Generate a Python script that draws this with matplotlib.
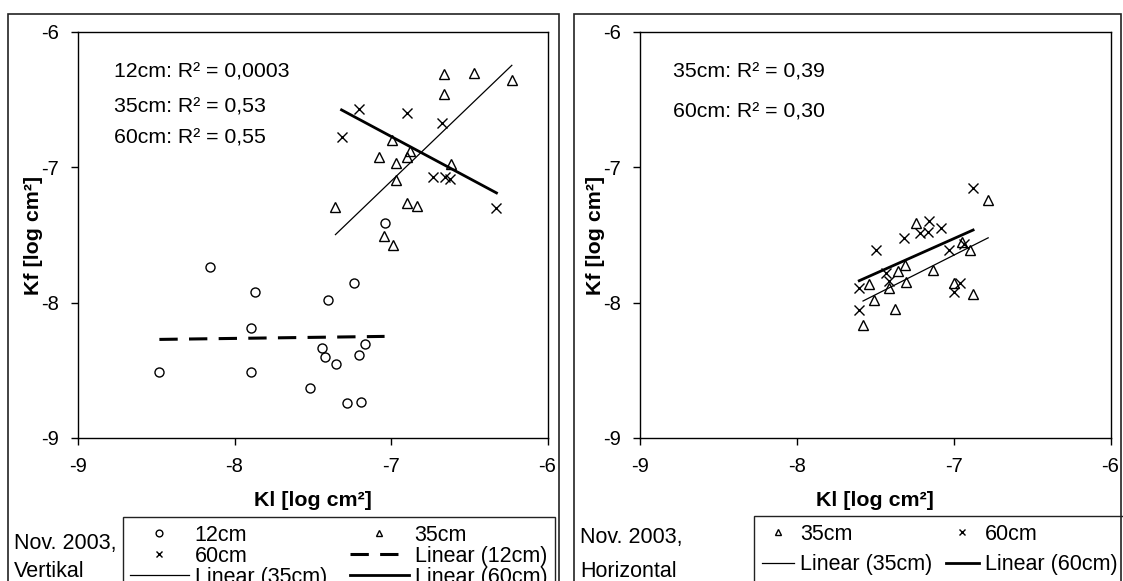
import matplotlib
matplotlib.use("Agg")
import matplotlib.pyplot as plt
from matplotlib.patches import Rectangle
import numpy as np

plt.rcParams['font.family'] = ['Liberation Sans', 'DejaVu Sans']

# Nov. 2003, vertical samples (Kl vs Kf, log cm^2)
kl12_v = [-8.158, -7.871, -7.405, -7.236, -7.893, -7.168, -7.439, -7.202,
          -7.423, -7.353, -8.480, -7.893, -7.517, -7.282, -7.193, -7.041]
kf12_v = [-7.739, -7.922, -7.983, -7.851, -8.185, -8.305, -8.332, -8.385,
          -8.402, -8.456, -8.515, -8.515, -8.634, -8.744, -8.734, -7.408]
kl35_v = [-6.659, -6.468, -6.228, -6.659, -6.992, -7.074, -6.967, -6.878,
          -6.896, -6.616, -6.967, -7.355, -6.896, -6.837, -7.045, -6.985]
kf35_v = [-6.312, -6.300, -6.351, -6.455, -6.799, -6.921, -6.971, -6.877,
          -6.926, -6.978, -7.093, -7.290, -7.260, -7.283, -7.511, -7.572]
kl60_v = [-7.202, -6.896, -7.316, -6.675, -6.730, -6.657, -6.623, -6.326]
kf60_v = [-6.572, -6.602, -6.774, -6.676, -7.069, -7.069, -7.088, -7.297]

# Nov. 2003, horizontal samples
kl35_h = [-6.780, -7.240, -6.946, -6.899, -7.312, -7.357, -7.131, -7.304,
          -7.542, -7.414, -6.995, -6.876, -7.506, -7.376, -7.578]
kf35_h = [-7.245, -7.415, -7.553, -7.608, -7.720, -7.765, -7.758, -7.845,
          -7.865, -7.890, -7.858, -7.933, -7.983, -8.045, -8.165]
kl60_h = [-6.876, -7.157, -7.216, -7.165, -7.078, -7.314, -7.497, -7.027,
          -6.936, -7.429, -7.414, -7.602, -7.602, -6.961, -6.995]
kf60_h = [-7.150, -7.395, -7.483, -7.475, -7.445, -7.520, -7.608, -7.608,
          -7.563, -7.783, -7.838, -7.895, -8.053, -7.858, -7.920]

r2_text_v = ['12cm: R² = 0,0003', '35cm: R² = 0,53', '60cm: R² = 0,55']
r2_text_h = ['35cm: R² = 0,39', '60cm: R² = 0,30']
ticks = [-9, -8, -7, -6]

W, H = 1123, 581
fig = plt.figure(figsize=(W / 100, H / 100), dpi=100)

# outer chart frames
fig.patches.append(Rectangle((8 / W, -0.1), 551 / W, 1.1 - 14 / H, transform=fig.transFigure,
                             fill=False, edgecolor='#222222', linewidth=1.2))
fig.patches.append(Rectangle((573.5 / W, -0.1), 547.5 / W, 1.1 - 14 / H, transform=fig.transFigure,
                             fill=False, edgecolor='#222222', linewidth=1.2))

axL = fig.add_axes([78 / W, 1 - 438 / H, 469.5 / W, 406 / H])
axR = fig.add_axes([640 / W, 1 - 438 / H, 470.5 / W, 406 / H])

ms = 6.5
mk = dict(linestyle='none', color='black', markersize=ms, markeredgewidth=1.0, clip_on=False)
fs_leg = 15.5


# linear trendline over the x range of the data
def trend(ax, x, y, **kw):
    x = np.array(x)
    a, b = np.polyfit(x, np.array(y), 1)
    xs = np.array([x.min(), x.max()])
    return ax.plot(xs, a * xs + b, color='black', **kw)[0]


def style(ax):
    ax.set_xlim(-9, -6)
    ax.set_ylim(-9, -6)
    ax.set_xticks(ticks)
    ax.set_yticks(ticks)
    ax.set_xticklabels([str(t) for t in ticks])
    ax.set_yticklabels([str(t) for t in ticks])
    ax.tick_params(direction='out', length=5, width=1, labelsize=14.5, pad=9)
    for s in ax.spines.values():
        s.set_linewidth(1.0)
    ax.set_xlabel('Kl [log cm²]', fontsize=15.4, fontweight='bold', va='center')
    ax.set_ylabel('Kf [log cm²]', fontsize=15.4, fontweight='bold', va='center')
    ax.xaxis.set_label_coords(0.5, -0.153)
    ax.yaxis.set_label_coords(-0.094, 0.5)


# left panel: vertical
h12 = axL.plot(kl12_v, kf12_v, marker='o', markerfacecolor='none', **mk)[0]
h35 = axL.plot(kl35_v, kf35_v, marker='^', markerfacecolor='none', **mk)[0]
h60 = axL.plot(kl60_v, kf60_v, marker='x', **mk)[0]
l12 = trend(axL, kl12_v, kf12_v, linewidth=2.2, dashes=(6, 3.7))
l35 = trend(axL, kl35_v, kf35_v, linewidth=0.9)
l60 = trend(axL, kl60_v, kf60_v, linewidth=2.0)
style(axL)
for txt, yy in zip(r2_text_v, [0.902, 0.816, 0.738]):
    axL.text(0.077, yy, txt, transform=axL.transAxes, fontsize=15.3, va='center', ha='left')

legL = axL.legend([h12, h60, l35, h35, l12, l60],
                  ['12cm', '60cm', 'Linear (35cm)', '35cm', 'Linear (12cm)', 'Linear (60cm)'],
                  ncol=2, loc='upper left', bbox_to_anchor=(122.5 / W, 1 - 517 / H),
                  bbox_transform=fig.transFigure, fontsize=fs_leg, fancybox=False,
                  edgecolor='#222222', handlelength=2.73, handletextpad=0.28, columnspacing=1.06,
                  labelspacing=0.0, borderpad=0.35, borderaxespad=0, markerscale=0.75,
                  framealpha=1)
legL.get_frame().set_linewidth(1.0)

# right panel: horizontal
g35 = axR.plot(kl35_h, kf35_h, marker='^', markerfacecolor='none', **mk)[0]
g60 = axR.plot(kl60_h, kf60_h, marker='x', **mk)[0]
m35 = trend(axR, kl35_h, kf35_h, linewidth=0.9)
m60 = trend(axR, kl60_h, kf60_h, linewidth=2.0)
style(axR)
for txt, yy in zip(r2_text_h, [0.901, 0.804]):
    axR.text(0.071, yy, txt, transform=axR.transAxes, fontsize=15.3, va='center', ha='left')

legR = axR.legend([g35, m35, g60, m60],
                  ['35cm', 'Linear (35cm)', '60cm', 'Linear (60cm)'],
                  ncol=2, loc='upper left', bbox_to_anchor=(754 / W, 1 - 516 / H),
                  bbox_transform=fig.transFigure, fontsize=fs_leg, fancybox=False,
                  edgecolor='#222222', handlelength=1.53, handletextpad=0.28, columnspacing=0.6,
                  labelspacing=0.45, borderpad=0.35, borderaxespad=0, markerscale=0.75,
                  framealpha=1)
legR.get_frame().set_linewidth(1.0)

# sample captions
fig.text(14 / W, 1 - 543 / H, 'Nov. 2003,', fontsize=fs_leg, va='center', ha='left')
fig.text(14 / W, 1 - 571.5 / H, 'Vertikal', fontsize=fs_leg, va='center', ha='left')
fig.text(580 / W, 1 - 538 / H, 'Nov. 2003,', fontsize=fs_leg, va='center', ha='left')
fig.text(580 / W, 1 - 571.5 / H, 'Horizontal', fontsize=fs_leg, va='center', ha='left')

fig.savefig('out.png', dpi=100)
